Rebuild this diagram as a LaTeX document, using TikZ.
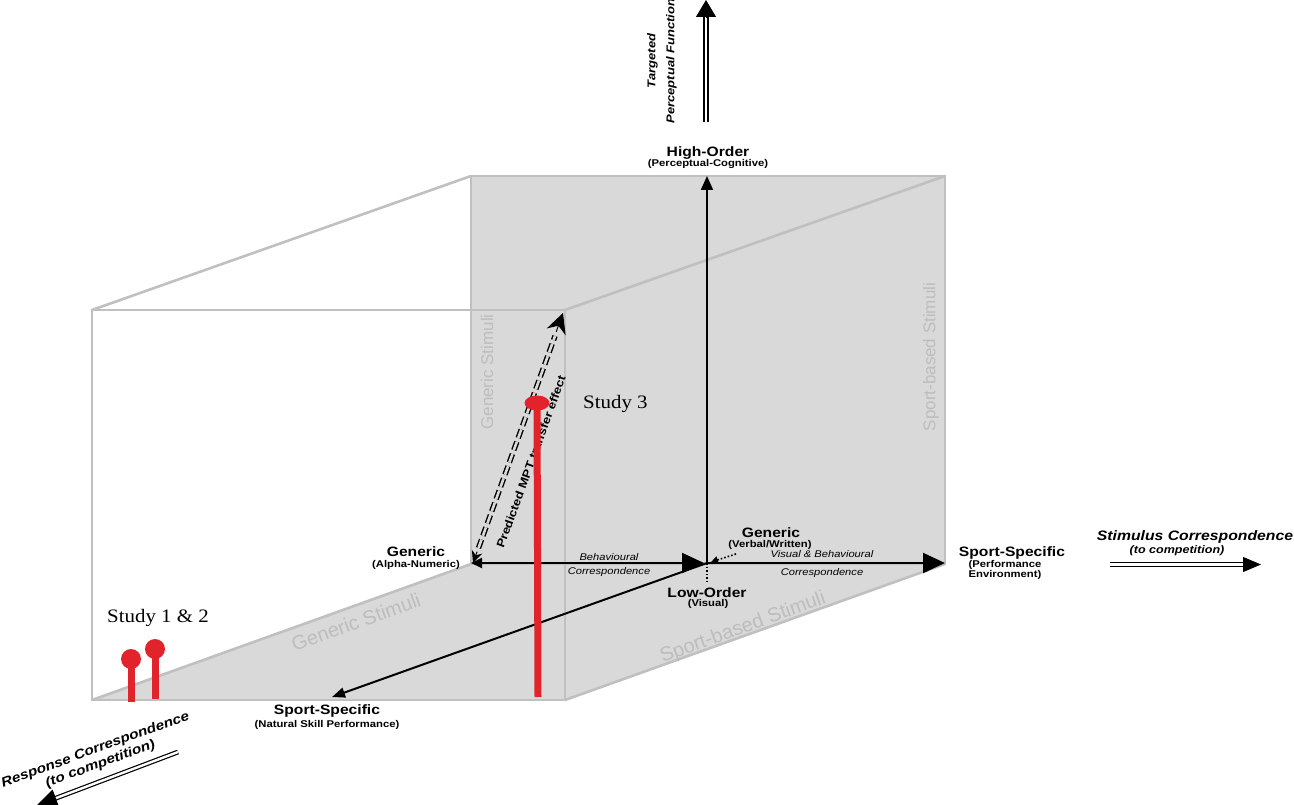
\documentclass[tikz,border=0pt]{standalone}
\usepackage{fontspec}
\setmainfont{Liberation Sans}[FakeStretch=1.15]
\newfontfamily\plainsans{Liberation Sans}
\newfontfamily\studyfont{Liberation Serif}[FakeStretch=1.1]
\usetikzlibrary{arrows.meta}
\definecolor{facegray}{HTML}{D9D9D9}
\definecolor{edgegray}{HTML}{C0C0C0}
\definecolor{txtgray}{HTML}{BDBDBD}
\definecolor{pinred}{HTML}{E3232B}
\tikzset{
  edge/.style={draw=edgegray, line width=2.6pt, line join=miter},
  axis/.style={line width=2pt, black},
  mainlbl/.style={font=\bfseries\fontsize{13.6}{15}\selectfont, inner sep=0pt, anchor=base},
  sublbl/.style={font=\bfseries\fontsize{9.8}{11}\selectfont, inner sep=0pt, anchor=base},
  itlbl/.style={font=\itshape\fontsize{9.7}{11}\selectfont, inner sep=0pt, anchor=base},
  graylbl/.style={font=\plainsans\fontsize{17}{19}\selectfont, text=txtgray, inner sep=0pt},
  floorlbl/.style={font=\plainsans\fontsize{20}{22}\selectfont, text=txtgray, inner sep=0pt},
  studylbl/.style={font=\studyfont\fontsize{19}{21}\selectfont, inner sep=0pt, anchor=base west},
  pinline/.style={draw=pinred, line width=7pt},
  dbl/.style={double=white, double distance=2.6pt, line width=1.4pt},
}
\begin{document}
\begin{tikzpicture}[x=1pt,y=-1pt]
\useasboundingbox (0,0) rectangle (1294,805);
% cube corners
\coordinate (F1) at (92,310);
\coordinate (F2) at (565,310);
\coordinate (F3) at (565,700);
\coordinate (F4) at (92,700);
\coordinate (B1) at (471,176);
\coordinate (B2) at (945,176);
\coordinate (B3) at (945,564);
\coordinate (B4) at (471,564);
% faces
\fill[facegray] (B1) rectangle (B3);
\fill[facegray] (F4) -- (F3) -- (B3) -- (B4) -- cycle;
% edges
\draw[edge] (B1) rectangle (B3);
\draw[edge] (F1) rectangle (F3);
\draw[edge] (F1) -- (B1);
\draw[edge] (F2) -- (B2);
\draw[edge] (F3) -- (B3);
\draw[edge] (F4) -- (B4);
% gray stimulus labels
\node[graylbl, rotate=90] (gsv) at (487,372) {Generic Stimuli};
\node[graylbl, rotate=90] (ssv) at (931,357) {Sport-based Stimuli};
\node[floorlbl, rotate=20] (gsf) at (356,622) {Generic Stimuli};
\node[floorlbl, rotate=20] (ssf) at (743,628) {Sport-based Stimuli};
% axes
\coordinate (O) at (707,563);
\coordinate (HOt) at (707,176);
\coordinate (GAt) at (471,563);
\coordinate (Ol) at (704,563);
\coordinate (SSt) at (945,563);
\coordinate (NSt) at (332,697);
\draw[axis, -{Triangle[length=14pt,width=12pt]}] (O) -- (HOt);
\draw[axis, {Triangle[length=11pt,width=10pt]}-{Triangle[length=22pt,width=20pt]}] (GAt) -- (Ol);
\draw[axis, -{Triangle[length=22pt,width=20pt]}] (O) -- (SSt);
\draw[axis, -{Triangle[length=13pt,width=10pt]}] (O) -- (NSt);
% dotted pointers
\coordinate (LOd) at (707,582);
\coordinate (GVd) at (736,554);
\coordinate (GVt) at (711,562);
\draw[line width=1.6pt, dotted] (O) -- (LOd);
\draw[line width=1.6pt, dotted, -{Triangle[length=7pt,width=7pt]}] (GVd) -- (GVt);
% axis labels
\node[mainlbl] (ho) at (708,157) {High-Order};
\node[sublbl] (hos) at (708,166.5) {(Perceptual-Cognitive)};
\node[mainlbl] (ga) at (416,556) {Generic};
\node[sublbl] (gas) at (416,567) {(Alpha-Numeric)};
\node[mainlbl] (gv) at (771,537) {Generic};
\node[sublbl] (gvs) at (770,547) {(Verbal/Written)};
\node[mainlbl] (lo) at (707,597) {Low-Order};
\node[sublbl] (los) at (708,606) {(Visual)};
\node[mainlbl] (ssr) at (1012,556) {Sport-Specific};
\node[sublbl] (ssr1) at (1005,567) {(Performance};
\node[sublbl] (ssr2) at (1005,577) {Environment)};
\node[mainlbl] (ssb) at (327,714) {Sport-Specific};
\node[sublbl] (ssbs) at (327,727) {(Natural Skill Performance)};
\node[itlbl] (bc1) at (609,560) {Behavioural};
\node[itlbl] (bc2) at (609,574) {Correspondence};
\node[itlbl] (vb1) at (822,557) {Visual \& Behavioural};
\node[itlbl] (vb2) at (822,575) {Correspondence};
% Targeted perceptual function
\node[font=\bfseries\itshape\fontsize{11.3}{19}\selectfont, align=center, rotate=90, inner sep=0pt] (tpf) at (662,61) {Targeted\\Perceptual Function};
\coordinate (tpfA) at (706,122);
\coordinate (tpfB) at (706,15);
\coordinate (tpfC) at (706,17);
\coordinate (tpfD) at (706,0);
\draw[dbl] (tpfA) -- (tpfB);
\draw[line width=1pt, -{Triangle[length=17pt,width=20pt]}] (tpfC) -- (tpfD);
% Stimulus correspondence
\node[font=\bfseries\itshape\fontsize{13.7}{15}\selectfont, inner sep=0pt, anchor=base] (sc) at (1195,540) {Stimulus Correspondence};
\node[font=\bfseries\itshape\fontsize{10.9}{12}\selectfont, inner sep=0pt, anchor=base] (scs) at (1177,553) {(to competition)};
\coordinate (scA) at (1110,564.5);
\coordinate (scB) at (1245,564.5);
\coordinate (scC) at (1243,564.5);
\coordinate (scD) at (1261,564.5);
\draw[dbl, line width=1.2pt, double distance=2.4pt] (scA) -- (scB);
\draw[line width=1pt, -{Triangle[length=18pt,width=15pt]}] (scC) -- (scD);
% Response correspondence
\node[font=\bfseries\itshape\fontsize{13.3}{15}\selectfont, align=center, rotate=20, inner sep=0pt] (rc) at (98,757) {Response Correspondence\\(to competition)};
\coordinate (rcA) at (178,752);
\coordinate (rcB) at (55,798.5);
\coordinate (rcC) at (56,798);
\coordinate (rcD) at (37,805);
\draw[dbl, line width=1.2pt, double distance=2.4pt] (rcA) -- (rcB);
\draw[line width=1pt, -{Triangle[length=20pt,width=18pt]}] (rcC) -- (rcD);
% predicted MPT transfer effect
\coordinate (mA) at (478.5,548);
\coordinate (mB) at (555,336);
\coordinate (mBb) at (556.2,331.8);
\coordinate (mT) at (563,313);
\coordinate (mAb) at (477.1,551.7);
\coordinate (mS) at (473,563);
\draw[dbl, double=facegray, dash pattern=on 9pt off 4pt] (mA) -- (mB);
\draw[line width=1pt, -{Stealth[length=20pt,width=20pt]}] (mBb) -- (mT);
\draw[line width=1pt, -{Stealth[length=12pt,width=11pt]}] (mAb) -- (mS);
\node[font=\bfseries\fontsize{11.4}{13}\selectfont, rotate=70, inner sep=0pt] (mpt) at (531,462) {Predicted MPT transfer effect};
% studies
\node[studylbl] (s12) at (107,622) {Study 1 \& 2};
\node[studylbl] (s3) at (583,408) {Study 3};
% red pins
\coordinate (p1b) at (131,702);
\coordinate (p1t) at (131,659);
\coordinate (p2b) at (155,699);
\coordinate (p2t) at (155,649);
\coordinate (p3b) at (538,697);
\coordinate (p3t) at (537,403);
\draw[pinline] (p1b) -- (p1t);
\fill[pinred] (p1t) circle (10pt);
\draw[pinline] (p2b) -- (p2t);
\fill[pinred] (p2t) circle (10pt);
\draw[pinline] (p3b) -- (p3t);
\fill[pinred] (p3t) ellipse (12.5pt and 7.5pt);
\end{tikzpicture}
\end{document}
